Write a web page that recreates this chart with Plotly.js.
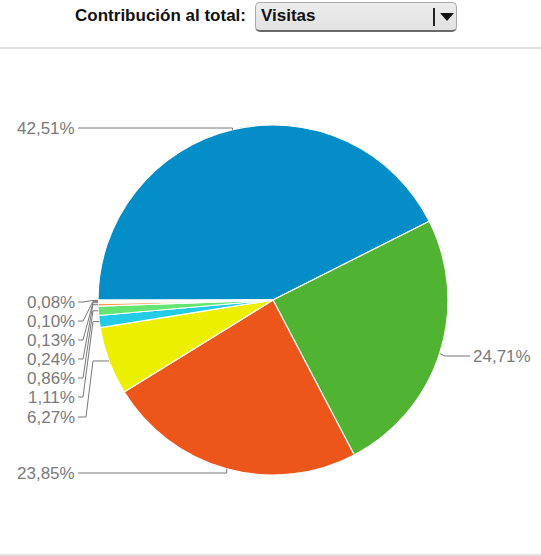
<!DOCTYPE html>
<html>
<head>
<meta charset="utf-8">
<script src="https://cdn.plot.ly/plotly-3.0.1.min.js"></script>
<style>
  html, body { margin:0; padding:0; background:#fff; }
  #wrap { position:relative; width:541px; height:556px; overflow:hidden; font-family: Arial, "Liberation Sans", sans-serif; }
  #chart { position:absolute; left:0; top:0; width:541px; height:556px; }
  #lbl { position:absolute; right:295px; top:4px; font-weight:bold; font-size:17px; color:#111; line-height:24px; white-space:nowrap; }
  #sel { position:absolute; left:255px; top:2px; width:202px; height:30px; border:1px solid #a8a8a8; border-bottom:2px solid #6a6a6a;
         border-radius:5px; background:linear-gradient(#ececec,#e2e2e2); box-sizing:border-box; }
  #selText { position:absolute; left:5px; top:1px; font-weight:bold; font-size:17px; color:#111; line-height:24px; }
  #selDiv { position:absolute; left:177px; top:5px; width:2px; height:18px; background:#222; }
  #selArrow { position:absolute; left:184px; top:10px; width:0; height:0; border-left:7px solid transparent; border-right:7px solid transparent; border-top:8px solid #111; }
  #hr1 { position:absolute; left:0; top:47px; width:541px; height:2px; background:#e2e2e2; }
  #hr2 { position:absolute; left:0; top:554px; width:541px; height:2px; background:#e2e2e2; }
</style>
</head>
<body>
<div id="wrap">
  <div id="chart"></div>
  <div id="lbl">Contribución al total:</div>
  <div id="sel"><span id="selText">Visitas</span><div id="selDiv"></div><div id="selArrow"></div></div>
  <div id="hr1"></div>
  <div id="hr2"></div>
</div>
<script>
// ---- data ----
const categories = ['Segmento 1','Segmento 2','Segmento 3','Segmento 4','Segmento 5','Segmento 6','Segmento 7','Segmento 8','Segmento 9','Segmento 10'];
const values = [42.51, 24.71, 23.85, 6.27, 1.11, 0.86, 0.24, 0.13, 0.10, 0.08];
const colors = ['#058DC7','#50B432','#ED561B','#EDEF00','#24CBE5','#64E572','#FF9655','#FFF263','#6AF9C4','#B2DEFF'];

// ---- layout constants (pixels) ----
const W = 541, H = 556;
const cx = 273, cy = 300, R = 175;
const startDeg = 270;
const labelY = [128, 356, 473, 417, 397, 378, 359, 340, 321, 302];
const labelSide = ['left','right','left','left','left','left','left','left','left','left'];
const leftLabelX = 76, rightLabelX = 472;

const px = x => x / W;
const py = y => 1 - y / H;
const fmt = v => v.toFixed(2).replace('.', ',') + '%';

const total = values.reduce((a,b)=>a+b,0);
let cum = 0;
const annotations = [], shapes = [];
values.forEach((v, i) => {
  const mid = (startDeg + 360 * (cum + v/2) / total) * Math.PI / 180;
  cum += v;
  const ex = cx + R * Math.sin(mid), ey = cy - R * Math.cos(mid);
  const ly = labelY[i];
  let pts;
  if (labelSide[i] === 'right') {
    pts = [[ex, ey], [ex + 5, ly], [rightLabelX - 2, ly]];
  } else if (v > 10) {
    pts = [[leftLabelX + 2, ly], [ex, ly], [ex, ey]];
  } else {
    const xa = (i === 3) ? 86 : 83;
    const xb = 93;
    pts = [[leftLabelX + 2, ly], [xa, ly], [xb, ey], [ex, ey]];
  }
  const path = pts.map((p, k) => (k ? 'L' : 'M') + px(p[0]).toFixed(5) + ',' + py(p[1]).toFixed(5)).join(' ');
  shapes.push({type:'path', xref:'paper', yref:'paper', path: path, line:{color:'#777', width:1}});
  annotations.push({
    xref:'paper', yref:'paper',
    x: px(labelSide[i] === 'right' ? rightLabelX : leftLabelX), y: py(ly),
    xanchor: labelSide[i] === 'right' ? 'left' : 'right', yanchor:'middle',
    text: fmt(v), showarrow:false, borderpad:0,
    font:{family:'Arial, "Liberation Sans", sans-serif', size:17, color:'#7a7a7a'}
  });
});

const trace = {
  type:'pie',
  labels: categories,
  values: values,
  sort:false,
  direction:'clockwise',
  rotation: startDeg,
  textinfo:'none',
  hoverinfo:'label+percent',
  marker:{colors: colors, line:{color:'#ffffff', width:1.2}},
  domain:{x:[px(cx - R), px(cx + R)], y:[py(cy + R), py(cy - R)]},
  showlegend:false
};

Plotly.newPlot('chart', [trace], {
  width: W, height: H,
  margin:{l:0, r:0, t:0, b:0},
  paper_bgcolor:'#fff',
  showlegend:false,
  annotations: annotations,
  shapes: shapes
}, {displayModeBar:false, staticPlot:true});
</script>
</body>
</html>
